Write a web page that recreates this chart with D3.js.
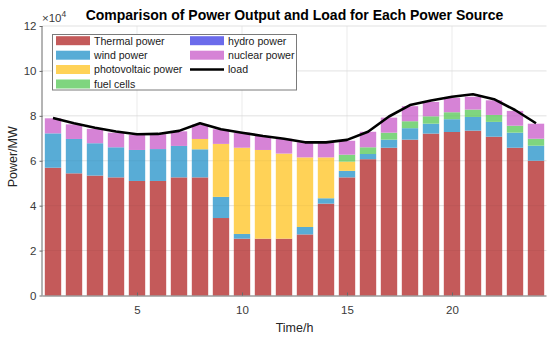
<!DOCTYPE html>
<html><head><meta charset="utf-8">
<script src="https://cdn.jsdelivr.net/npm/d3@7"></script>
<style>body{margin:0;background:#fff;} text{font-family:"Liberation Sans",Arial,sans-serif;}</style>
</head><body><svg id="c" width="550" height="338"></svg>
<script>
const hours = d3.range(1, 25);
const thermal = [56900,54400,53400,52600,51000,51000,52600,52600,34500,25300,25300,25300,27200,40900,52600,60700,65800,69400,72100,72800,73400,70700,65800,60000];
const wind    = [15300,15300,14400,13400,13800,14200,14000,12500,9400,2100,0,0,3300,2400,2900,2300,3600,5100,4400,5700,6100,6600,6700,6700];
const photovoltaic = [0,0,0,0,0,0,0,4600,23600,38400,39500,37900,31000,18200,4100,0,0,0,0,0,0,0,0,0];
const fuelCells = [0,0,0,0,0,0,0,0,0,0,0,0,0,0,3100,3000,3100,3100,3300,3100,3300,3100,3100,3100];
const hydro = [0,0,0,0,0,0,0,0,0,0,0,0,0,0,0,0,0,0,0,0,0,0,0,0];
const nuclear = [6700,6500,6400,6500,6700,6600,6500,6400,6500,6700,6200,6600,6700,6700,6200,6900,6700,6700,6400,6400,5700,6500,6600,6700];
const load = [79000,76700,74700,73000,71800,71950,73300,76700,74000,72500,71000,69800,68200,68200,69300,72900,79700,84800,86800,88500,89600,87400,82600,76700];
const yTicks = [0,20000,40000,60000,80000,100000,120000];
const xTicks = [5,10,15,20];
const seriesNames = ["Thermal power","wind power","photovoltaic power","fuel cells","hydro power","nuclear power"];
const seriesData = [thermal, wind, photovoltaic, fuelCells, hydro, nuclear];
const colors = ["#c45a5a","#58acd6","#ffd257","#7fd57f","#6b6beb","#d683d6"];

const svg = d3.select("#c");
const L = 42.5, R = 546.5, T = 26, B = 295.5;
const x = d3.scaleLinear().domain([0.5, 24.5]).range([L, R]);
const y = d3.scaleLinear().domain([0, 120000]).range([B, T]);
const bw = (x(1) - x(0)) * 0.78;

const rows = hours.map((h, i) => {
  const o = {h};
  seriesNames.forEach((n, k) => o[n] = seriesData[k][i]);
  return o;
});
const stack = d3.stack().keys(seriesNames)(rows);

// grid
const g = svg.append("g");
g.selectAll(".gy").data(yTicks.filter(d => d > 0)).join("line")
  .attr("x1", L).attr("x2", R).attr("y1", d => y(d)).attr("y2", d => y(d))
  .attr("stroke", "#e6e6e6").attr("stroke-width", 0.8);
g.selectAll(".gx").data(xTicks).join("line")
  .attr("x1", d => x(d)).attr("x2", d => x(d)).attr("y1", T).attr("y2", B)
  .attr("stroke", "#e6e6e6").attr("stroke-width", 0.8);

// bars
stack.forEach((s, k) => {
  svg.append("g").selectAll("rect").data(s).join("rect")
    .attr("x", d => x(d.data.h) - bw / 2)
    .attr("width", bw)
    .attr("y", d => y(d[1]))
    .attr("height", d => Math.max(0, y(d[0]) - y(d[1])))
    .attr("fill", colors[k]);
});
// faint grid through bars
svg.append("g").selectAll("line").data(yTicks.filter(d => d > 0)).join("line")
  .attr("x1", L).attr("x2", R).attr("y1", d => y(d)).attr("y2", d => y(d))
  .attr("stroke", "rgba(0,0,0,0.05)").attr("stroke-width", 0.8);

// load line
svg.append("path").datum(load)
  .attr("d", d3.line().x((d, i) => x(hours[i])).y(d => y(d)))
  .attr("fill", "none").attr("stroke", "#000").attr("stroke-width", 2.6)
  .attr("stroke-linejoin", "round");

// axes
const axCol = "#6a6a6a";
const yAxis = svg.append("g").attr("transform", `translate(${L},0)`)
  .call(d3.axisLeft(y).tickValues(yTicks).tickFormat(d => d / 10000).tickSize(3).tickPadding(3));
const xAxis = svg.append("g").attr("transform", `translate(0,${B})`)
  .call(d3.axisBottom(x).tickValues(xTicks).tickSize(-3).tickPadding(10));
[yAxis, xAxis].forEach(a => {
  a.select(".domain").attr("stroke", axCol).attr("stroke-width", 1);
  a.selectAll(".tick line").attr("stroke", axCol);
  a.selectAll("text").attr("fill", "#3a3a3a").attr("font-size", 11.5)
    .attr("font-family", "'Liberation Sans',Arial,sans-serif");
});
yAxis.select(".domain").attr("d", `M-0.5,${B}V${T}`);
xAxis.select(".domain").attr("d", `M${L},0.5H${R}`);

// exponent
const ex = svg.append("text").attr("x", 42).attr("y", 22).attr("fill", "#3a3a3a").attr("font-size", 11.5);
ex.append("tspan").text("×10");
ex.append("tspan").attr("font-size", 8.5).attr("dy", -5).text("4");

// title and labels
svg.append("text").attr("x", (L + R) / 2).attr("y", 20).attr("text-anchor", "middle")
  .attr("font-weight", "bold").attr("font-size", 14).attr("fill", "#000")
  .text("Comparison of Power Output and Load for Each Power Source");
svg.append("text").attr("x", (L + R) / 2).attr("y", 332).attr("text-anchor", "middle")
  .attr("font-size", 12.5).attr("fill", "#262626").text("Time/h");
svg.append("text").attr("transform", `translate(17,${(T + B) / 2 - 4}) rotate(-90)`)
  .attr("text-anchor", "middle").attr("font-size", 12.5).attr("fill", "#262626").text("Power/MW");

// legend
const lg = svg.append("g");
lg.append("rect").attr("x", 52.5).attr("y", 34.5).attr("width", 244).attr("height", 55.5)
  .attr("fill", "#fff").attr("stroke", "#7a7a7a").attr("stroke-width", 1);
const legItems = seriesNames.map((n, k) => ({name: n, color: colors[k], type: "rect"}));
legItems.push({name: "load", color: "#000", type: "line"});
const rowY = [40.7, 55.2, 69.5, 84];
legItems.forEach((it, i) => {
  const col = Math.floor(i / 4), row = i % 4;
  const sx = col === 0 ? 56 : 190, tx = col === 0 ? 94 : 228;
  const cy = rowY[row];
  if (it.type === "rect") {
    lg.append("rect").attr("x", sx).attr("y", cy - 4.5).attr("width", 34).attr("height", 9).attr("fill", it.color);
  } else {
    lg.append("line").attr("x1", sx).attr("x2", sx + 34).attr("y1", cy).attr("y2", cy)
      .attr("stroke", "#000").attr("stroke-width", 2.6);
  }
  lg.append("text").attr("x", tx).attr("y", cy + 3.8).attr("font-size", 10.6).attr("fill", "#1a1a1a").text(it.name);
});
</script></body></html>
